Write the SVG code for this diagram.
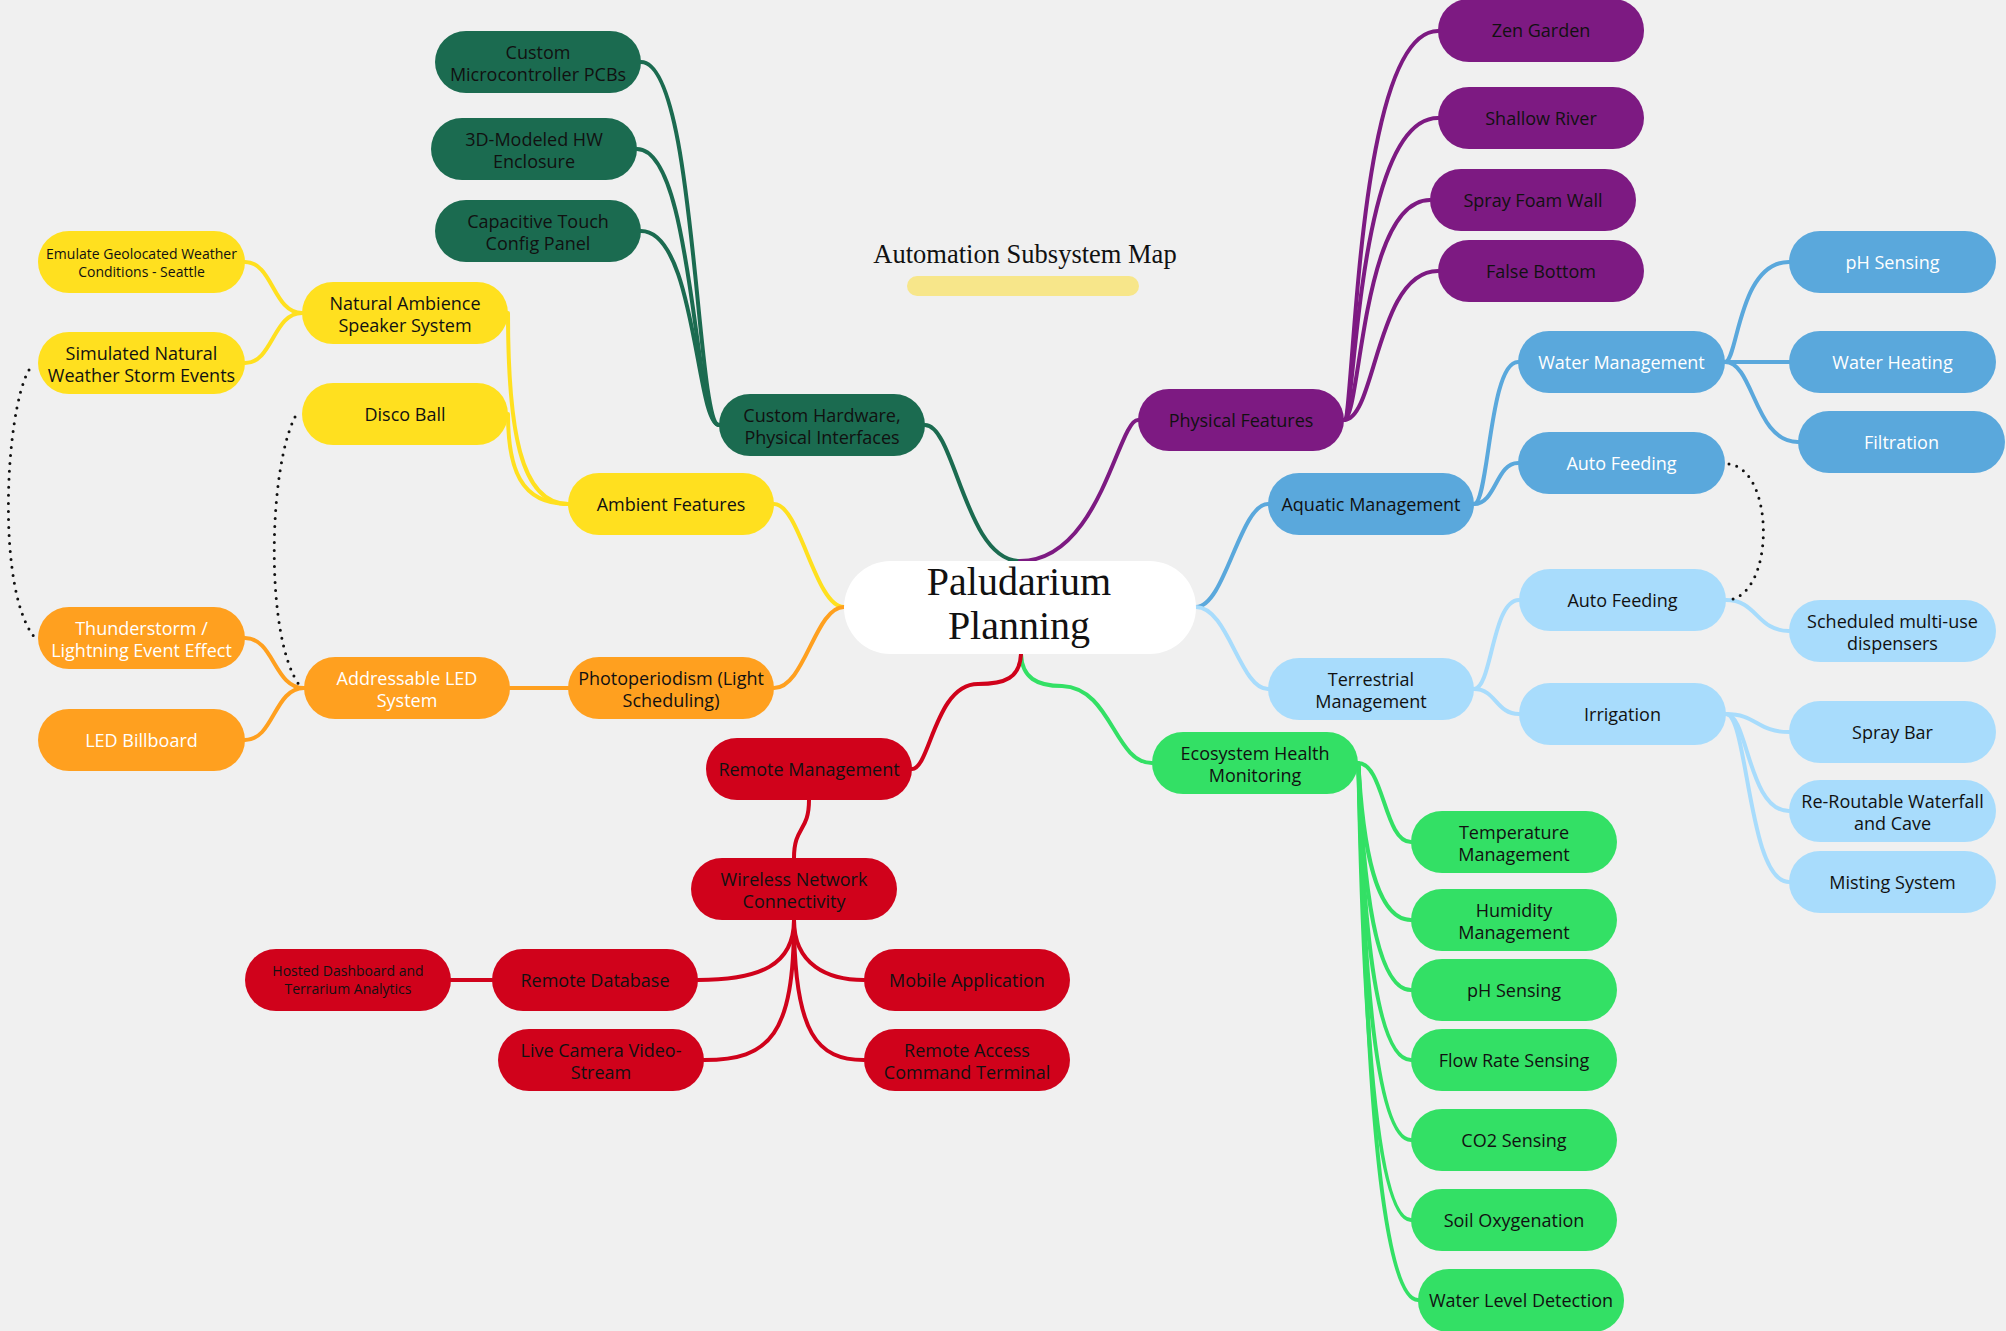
<svg xmlns="http://www.w3.org/2000/svg" width="2006" height="1331" viewBox="0 0 2006 1331">
<style>
.bg{fill:#f0f0f0}
text{font-family:"Open Sans","Noto Sans","Liberation Sans",sans-serif;font-size:18px;text-anchor:middle;fill:#111}
.wt text{fill:#ffffff}
.sm text{font-size:14px}
.ser{font-family:"Liberation Serif","DejaVu Serif",serif}
.dg rect{fill:#1b6b50}.pu rect{fill:#7d1a82}.bl rect{fill:#5aa8dc}.lb rect{fill:#a8dcfc}
.gr rect{fill:#33e065}.rd rect{fill:#d0021b}.ye rect{fill:#ffe01f}.or rect{fill:#ffa01f}
#connectors path{fill:none;stroke-width:4;stroke-linecap:round}
.cdg path{stroke:#1b6b50}.cpu path{stroke:#7d1a82}.cbl path{stroke:#5aa8dc}.clb path{stroke:#a8dcfc}
.cgr path{stroke:#33e065}.crd path{stroke:#d0021b}.cye path{stroke:#ffe01f}.cor path{stroke:#ffa01f}
#connectors .dot path{stroke:#111;stroke-width:3;stroke-dasharray:0 8}
</style>
<rect class="bg" x="0" y="0" width="2006" height="1331"/>

<g id="title">
<text class="ser" x="1025" y="263" style="font-size:26.5px">Automation Subsystem Map</text>
<rect x="907" y="276" width="232" height="20" rx="10" fill="#f7e68a"/>
</g>

<g id="connectors">
<g class="cye">
<path d="M844,607 C815,607 800,504 774,504"/>
<path d="M568,504 C520,504 508,428 508,313"/>
<path d="M568,504 C520,504 508,468 508,414"/>
<path d="M302,313 C273,313 273,262 245,262"/>
<path d="M302,313 C273,313 273,363 245,363"/>
</g>
<g class="cor">
<path d="M844,607 C815,607 805,688 774,688"/>
<path d="M568,688 L510,688"/>
<path d="M304,688 C274,688 274,638 245,638"/>
<path d="M304,688 C274,688 274,740 245,740"/>
</g>
<g class="cdg">
<path d="M925,425 C955,425 965,561 1020,561"/>
<path d="M719,425 C696,425 696,62 641,62"/>
<path d="M719,425 C694,425 694,149 637,149"/>
<path d="M719,425 C696,425 696,231 641,231"/>
</g>
<g class="cpu">
<path d="M1020,561 C1100,561 1118,420 1138,420"/>
<path d="M1344,420 C1355,420 1355,31 1438,31"/>
<path d="M1344,420 C1356,420 1356,118 1438,118"/>
<path d="M1344,420 C1361,420 1361,200 1430,200"/>
<path d="M1344,420 C1376,420 1376,271 1438,271"/>
</g>
<g class="cbl">
<path d="M1196,607 C1225,607 1240,504 1268,504"/>
<path d="M1474,504 C1489,504 1489,362 1518,362"/>
<path d="M1474,504 C1496,504 1496,463 1518,463"/>
<path d="M1725,362 C1738,362 1738,262 1789,262"/>
<path d="M1725,362 L1789,362"/>
<path d="M1725,362 C1754,362 1754,442 1798,442"/>
</g>
<g class="clb">
<path d="M1196,607 C1228,607 1240,689 1268,689"/>
<path d="M1474,689 C1492,689 1492,600 1519,600"/>
<path d="M1474,689 C1496,689 1496,714 1519,714"/>
<path d="M1726,600 C1757,600 1757,631 1789,631"/>
<path d="M1726,714 C1757,714 1757,732 1789,732"/>
<path d="M1726,714 C1748,714 1748,811 1789,811"/>
<path d="M1726,714 C1748,714 1748,882 1789,882"/>
</g>
<g class="cgr">
<path d="M1021,654 C1022,678 1037,686 1062,686 C1112,688 1114,763 1152,763"/>
<path d="M1358,763 C1384,763 1384,842 1411,842"/>
<path d="M1358,763 C1360,763 1360,920 1411,920"/>
<path d="M1358,763 C1360,763 1360,990 1411,990"/>
<path d="M1358,763 C1360,763 1360,1060 1411,1060"/>
<path d="M1358,763 C1360,763 1360,1140 1411,1140"/>
<path d="M1358,763 C1360,763 1360,1220 1411,1220"/>
<path d="M1358,763 C1362,763 1362,1300 1418,1300"/>
</g>
<g class="crd">
<path d="M1021,654 C1020,678 1005,684 978,684 C935,684 930,769 912,769"/>
<path d="M809,800 C809,832 794,826 794,858"/>
<path d="M794,920 C794,965 760,980 698,980"/>
<path d="M794,920 C794,965 828,980 864,980"/>
<path d="M794,920 C794,1035 770,1060 704,1060"/>
<path d="M794,920 C794,1035 818,1060 864,1060"/>
<path d="M451,980 L492,980"/>
</g>
<g class="dot">
<path d="M1729,464 C1775,470 1775,595 1728,600"/>
<path d="M29,370 C5,410 -5,600 38,641"/>
<path d="M295,417 C268,470 265,640 300,686"/>
</g>
</g>

<g id="center">
<rect x="844" y="561" width="352" height="93" rx="46.5" fill="#ffffff"/>
<text class="ser" x="1019" y="595" style="font-size:40px">Paludarium</text>
<text class="ser" x="1019" y="639" style="font-size:40px">Planning</text>
</g>

<g class="dg">
<g id="n-cmp"><rect x="435" y="31" width="206" height="62" rx="31"/><text x="538" y="58.5">Custom</text><text x="538" y="81">Microcontroller PCBs</text></g>
<g id="n-enc"><rect x="431" y="118" width="206" height="62" rx="31"/><text x="534" y="145.5">3D-Modeled HW</text><text x="534" y="168">Enclosure</text></g>
<g id="n-cap"><rect x="435" y="200" width="206" height="62" rx="31"/><text x="538" y="227.5">Capacitive Touch</text><text x="538" y="250">Config Panel</text></g>
<g id="n-chw"><rect x="719" y="394" width="206" height="62" rx="31"/><text x="822" y="421.5">Custom Hardware,</text><text x="822" y="444">Physical Interfaces</text></g>
</g>

<g class="pu">
<g id="n-zen"><rect x="1438" y="-1" width="206" height="63" rx="31"/><text x="1541" y="37">Zen Garden</text></g>
<g id="n-river"><rect x="1438" y="87" width="206" height="62" rx="31"/><text x="1541" y="124.5">Shallow River</text></g>
<g id="n-foam"><rect x="1430" y="169" width="206" height="62" rx="31"/><text x="1533" y="206.5">Spray Foam Wall</text></g>
<g id="n-fb"><rect x="1438" y="240" width="206" height="62" rx="31"/><text x="1541" y="277.5">False Bottom</text></g>
<g id="n-pf"><rect x="1138" y="389" width="206" height="62" rx="31"/><text x="1241" y="426.5">Physical Features</text></g>
</g>

<g class="bl">
<g id="n-am"><rect x="1268" y="473" width="206" height="62" rx="31"/><text x="1371" y="510.5">Aquatic Management</text></g>
<g class="wt">
<g id="n-wm"><rect x="1518" y="331" width="207" height="62" rx="31"/><text x="1621.5" y="368.5">Water Management</text></g>
<g id="n-af1"><rect x="1518" y="432" width="207" height="62" rx="31"/><text x="1621.5" y="469.5">Auto Feeding</text></g>
<g id="n-ph1"><rect x="1789" y="231" width="207" height="62" rx="31"/><text x="1892.5" y="268.5">pH Sensing</text></g>
<g id="n-wh"><rect x="1789" y="331" width="207" height="62" rx="31"/><text x="1892.5" y="368.5">Water Heating</text></g>
<g id="n-filt"><rect x="1798" y="411" width="207" height="62" rx="31"/><text x="1901.5" y="448.5">Filtration</text></g>
</g>
</g>

<g class="lb">
<g id="n-tm"><rect x="1268" y="658" width="206" height="62" rx="31"/><text x="1371" y="685.5">Terrestrial</text><text x="1371" y="708">Management</text></g>
<g id="n-af2"><rect x="1519" y="569" width="207" height="62" rx="31"/><text x="1622.5" y="606.5">Auto Feeding</text></g>
<g id="n-irr"><rect x="1519" y="683" width="207" height="62" rx="31"/><text x="1622.5" y="720.5">Irrigation</text></g>
<g id="n-sched"><rect x="1789" y="600" width="207" height="62" rx="31"/><text x="1892.5" y="627.5">Scheduled multi-use</text><text x="1892.5" y="650">dispensers</text></g>
<g id="n-spray"><rect x="1789" y="701" width="207" height="62" rx="31"/><text x="1892.5" y="738.5">Spray Bar</text></g>
<g id="n-reroute"><rect x="1789" y="780" width="207" height="62" rx="31"/><text x="1892.5" y="807.5">Re-Routable Waterfall</text><text x="1892.5" y="830">and Cave</text></g>
<g id="n-mist"><rect x="1789" y="851" width="207" height="62" rx="31"/><text x="1892.5" y="888.5">Misting System</text></g>
</g>

<g class="gr">
<g id="n-ehm"><rect x="1152" y="732" width="206" height="62" rx="31"/><text x="1255" y="759.5">Ecosystem Health</text><text x="1255" y="782">Monitoring</text></g>
<g id="n-temp"><rect x="1411" y="811" width="206" height="62" rx="31"/><text x="1514" y="838.5">Temperature</text><text x="1514" y="861">Management</text></g>
<g id="n-hum"><rect x="1411" y="889" width="206" height="62" rx="31"/><text x="1514" y="916.5">Humidity</text><text x="1514" y="939">Management</text></g>
<g id="n-ph2"><rect x="1411" y="959" width="206" height="62" rx="31"/><text x="1514" y="996.5">pH Sensing</text></g>
<g id="n-flow"><rect x="1411" y="1029" width="206" height="62" rx="31"/><text x="1514" y="1066.5">Flow Rate Sensing</text></g>
<g id="n-co2"><rect x="1411" y="1109" width="206" height="62" rx="31"/><text x="1514" y="1146.5">CO2 Sensing</text></g>
<g id="n-soil"><rect x="1411" y="1189" width="206" height="62" rx="31"/><text x="1514" y="1226.5">Soil Oxygenation</text></g>
<g id="n-wld"><rect x="1418" y="1269" width="206" height="63" rx="31"/><text x="1521" y="1306.5">Water Level Detection</text></g>
</g>

<g class="rd">
<g id="n-rm"><rect x="706" y="738" width="206" height="62" rx="31"/><text x="809" y="775.5">Remote Management</text></g>
<g id="n-wnc"><rect x="691" y="858" width="206" height="62" rx="31"/><text x="794" y="885.5">Wireless Network</text><text x="794" y="908">Connectivity</text></g>
<g id="n-rdb"><rect x="492" y="949" width="206" height="62" rx="31"/><text x="595" y="986.5">Remote Database</text></g>
<g id="n-hosted" class="sm"><rect x="245" y="949" width="206" height="62" rx="31"/><text x="348" y="976">Hosted Dashboard and</text><text x="348" y="994">Terrarium Analytics</text></g>
<g id="n-mobile"><rect x="864" y="949" width="206" height="62" rx="31"/><text x="967" y="986.5">Mobile Application</text></g>
<g id="n-live"><rect x="498" y="1029" width="206" height="62" rx="31"/><text x="601" y="1056.5">Live Camera Video-</text><text x="601" y="1079">Stream</text></g>
<g id="n-rac"><rect x="864" y="1029" width="206" height="62" rx="31"/><text x="967" y="1056.5">Remote Access</text><text x="967" y="1079">Command Terminal</text></g>
</g>

<g class="ye">
<g id="n-emu" class="sm"><rect x="38" y="231" width="207" height="62" rx="31"/><text x="141.5" y="258.5">Emulate Geolocated Weather</text><text x="141.5" y="276.5">Conditions - Seattle</text></g>
<g id="n-sim"><rect x="38" y="332" width="207" height="62" rx="31"/><text x="141.5" y="359.5">Simulated Natural</text><text x="141.5" y="382">Weather Storm Events</text></g>
<g id="n-na"><rect x="302" y="282" width="206" height="62" rx="31"/><text x="405" y="309.5">Natural Ambience</text><text x="405" y="332">Speaker System</text></g>
<g id="n-disco"><rect x="302" y="383" width="206" height="62" rx="31"/><text x="405" y="420.5">Disco Ball</text></g>
<g id="n-af"><rect x="568" y="473" width="206" height="62" rx="31"/><text x="671" y="510.5">Ambient Features</text></g>
</g>

<g class="or">
<g class="wt">
<g id="n-thund"><rect x="38" y="607" width="207" height="62" rx="31"/><text x="141.5" y="634.5">Thunderstorm /</text><text x="141.5" y="657">Lightning Event Effect</text></g>
<g id="n-ledb"><rect x="38" y="709" width="207" height="62" rx="31"/><text x="141.5" y="746.5">LED Billboard</text></g>
<g id="n-aled"><rect x="304" y="657" width="206" height="62" rx="31"/><text x="407" y="684.5">Addressable LED</text><text x="407" y="707">System</text></g>
</g>
<g id="n-photo"><rect x="568" y="657" width="206" height="62" rx="31"/><text x="671" y="684.5">Photoperiodism (Light</text><text x="671" y="707">Scheduling)</text></g>
</g>
</svg>
